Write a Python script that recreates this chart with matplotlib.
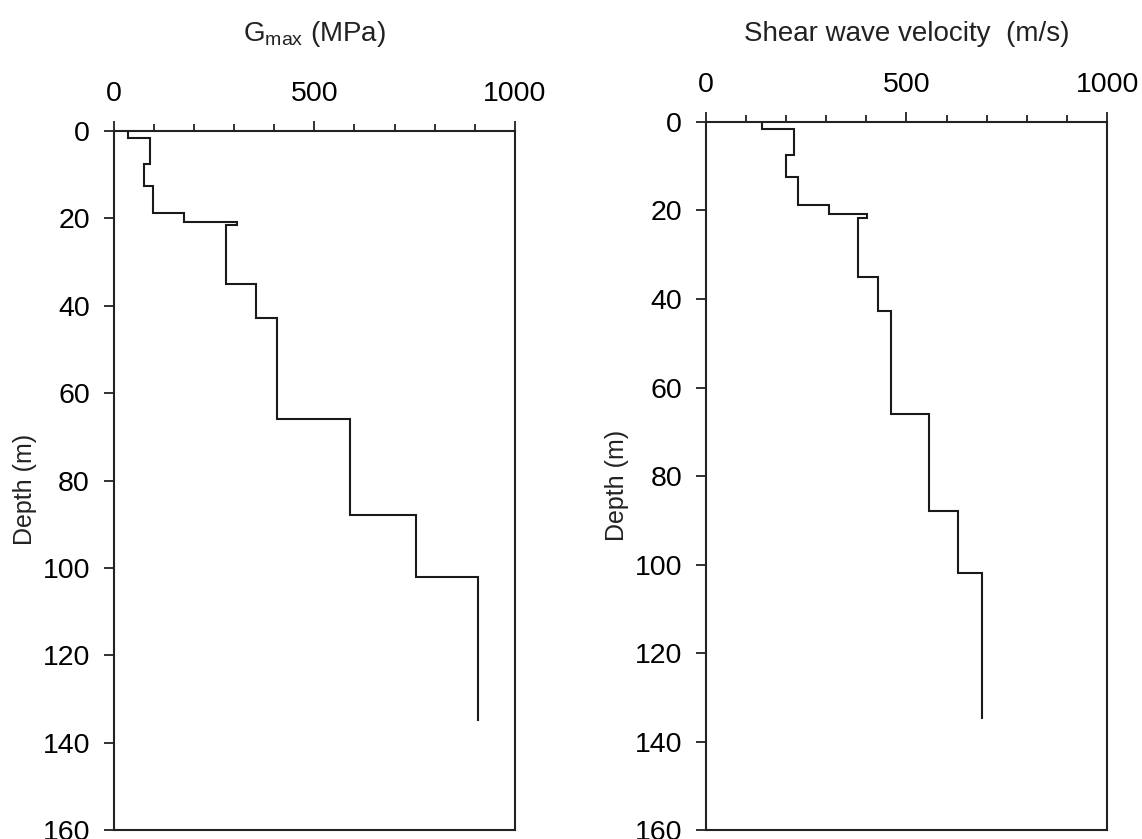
import matplotlib
matplotlib.use("Agg")
import matplotlib.pyplot as plt
from matplotlib.ticker import MultipleLocator

plt.rcParams["font.family"] = ["Liberation Sans", "DejaVu Sans"]

# layer boundaries (m) shared by both profiles
depth_edges = [0, 1.5, 7.5, 12.5, 18.7, 20.8, 21.6, 35, 42.8, 66, 88, 102, 135]
# small-strain shear modulus per layer (MPa)
gmax = [35, 91, 75, 99, 176, 307, 280, 356, 407, 590, 754, 907]
# shear wave velocity per layer (m/s)
vs = [140, 221, 200, 230, 308, 401, 380, 429, 462, 557, 629, 688]

fig = plt.figure(figsize=(11.42, 8.39), dpi=100)
ax1 = fig.add_axes([0.0994, 0.0107, 0.3516, 0.8331])
ax2 = fig.add_axes([0.618, 0.0107, 0.3515, 0.8439])

# top label padding differs so both titles sit on the same line
panels = [
    (ax1, gmax, r"G$_{\mathregular{max}}$ (MPa)", 29),
    (ax2, vs, "Shear wave velocity  (m/s)", 22.5),
]

for ax, vals, label, pad in panels:
    ax.stairs(vals, depth_edges, orientation="horizontal", baseline=None,
              color="#1a1a1a", lw=1.5)
    ax.set_xlim(0, 1000)
    ax.set_ylim(160, 0)
    ax.xaxis.tick_top()
    ax.xaxis.set_label_position("top")
    ax.xaxis.set_major_locator(MultipleLocator(500))
    ax.xaxis.set_minor_locator(MultipleLocator(100))
    ax.yaxis.set_major_locator(MultipleLocator(20))
    ax.tick_params(axis="both", which="major", direction="out", length=7,
                   width=1.3, labelsize=20.5, pad=10, color="#222222")
    ax.tick_params(axis="x", which="minor", direction="out", length=5,
                   width=1.3, color="#222222")
    ax.set_xlabel(label, fontsize=20, labelpad=pad, color="#222222")
    ax.set_ylabel("Depth (m)", fontsize=18, color="#222222")
    ax.yaxis.set_label_coords(-0.19, 0.487)
    for sp in ax.spines.values():
        sp.set_linewidth(1.5)
        sp.set_color("#222222")

fig.savefig("out.png", dpi=100)
